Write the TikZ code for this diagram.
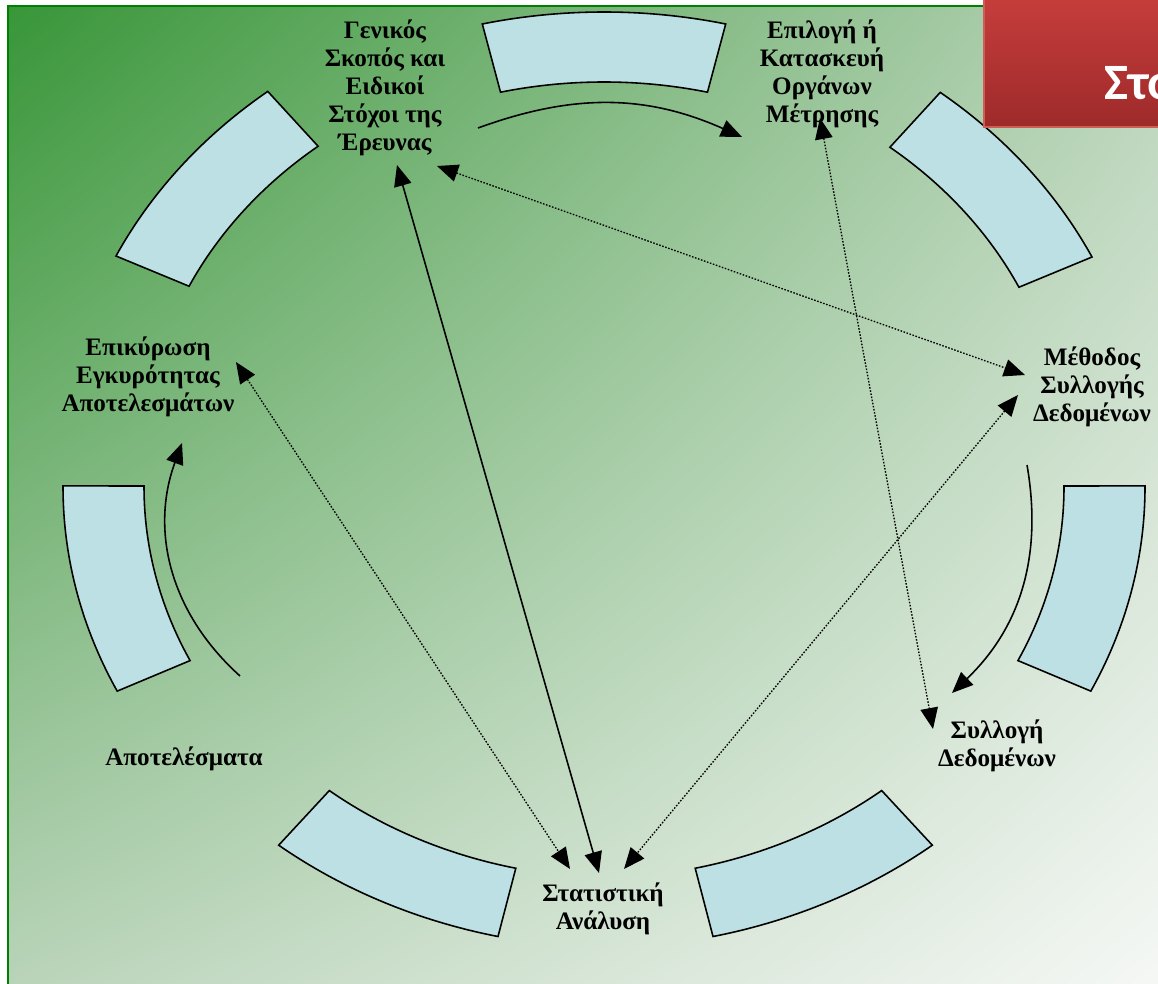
\documentclass[tikz,border=0pt]{standalone}
\usepackage{fontspec}
\setmainfont{Liberation Serif}
\newfontfamily\titlefont{Carlito}
\usetikzlibrary{arrows.meta,shadings}
\definecolor{segblue}{RGB}{188,224,228}
\definecolor{framegreen}{RGB}{0,128,0}
\definecolor{bgdark}{RGB}{56,150,56}
\definecolor{bgmid}{RGB}{186,212,186}
\definecolor{bglight}{RGB}{246,248,246}
\definecolor{boxtop}{RGB}{198,62,60}
\definecolor{boxbot}{RGB}{158,42,42}
\definecolor{boxline}{RGB}{208,92,86}

\begin{document}
\begin{tikzpicture}[x=0.02cm,y=-0.02cm,
  seg/.style={draw=black,line width=0.9pt,fill=segblue},
  lbl/.style={font=\fontsize{14.3}{16}\selectfont\bfseries,align=center,inner sep=0pt},
  tip/.style={line width=0.9pt,-{Triangle[length=12pt,width=10pt]}},
  twotip/.style={line width=0.9pt,{Triangle[length=12pt,width=10pt]}-{Triangle[length=12pt,width=10pt]}},
  dots/.style={dash pattern=on 0.9pt off 0.9pt,line width=0.75pt}]
\useasboundingbox (0,0) rectangle (1158,983);
\clip (0,0) rectangle (1158,983);

\shade[upper left=bgdark,upper right=bgmid,lower left=bgmid,lower right=bglight]
  (8,6) rectangle (1170,990);
\draw[framegreen,line width=1.2pt] (8,990) |- (1170,6);

\foreach \a/\dx/\dy in {-90/0/0,-38.57/0/-21,12.86/0/7,64.29/-10/0,115.71/13/0,167.14/0/7,-141.43/0/-22}{
  \draw[seg,shift={(604+\dx,480+\dy)}] (\a-13:541 and 468)
    arc[start angle=\a-13,end angle=\a+13,x radius=541,y radius=468]
    -- (\a+13:460 and 398)
    arc[start angle=\a+13,end angle=\a-13,x radius=460,y radius=398] -- cycle;
}

\node[lbl] (gen) at (385,88) {Γενικός\\Σκοπός και\\Ειδικοί\\Στόχοι της\\Έρευνας};
\node[lbl] (epil) at (822,74) {Επιλογή ή\\Κατασκευή\\Οργάνων\\Μέτρησης};
\node[lbl] (meth) at (1092,387) {Μέθοδος\\Συλλογής\\Δεδομένων};
\node[lbl] (syll) at (997,746) {Συλλογή\\Δεδομένων};
\node[lbl] (stat) at (603,909) {Στατιστική\\Ανάλυση};
\node[lbl] (apot) at (184,759) {Αποτελέσματα};
\node[lbl] (epik) at (148,377) {Επικύρωση\\Εγκυρότητας\\Αποτελεσμάτων};

\coordinate (genA) at (478,128);
\coordinate (epilA) at (742,137);
\coordinate (methA) at (1027,465);
\coordinate (syllA) at (952,693);
\coordinate (apotA) at (240,676);
\coordinate (epikA) at (182,443);
\draw[tip] (genA) to[bend left=22] (epilA);
\draw[tip] (methA) to[bend left=28] (syllA);
\draw[tip] (apotA) to[bend left=34] (epikA);

\coordinate (genB) at (397,165);
\coordinate (genC) at (437,166);
\coordinate (epilB) at (820,118);
\coordinate (methB) at (1025,375);
\coordinate (methC) at (1018,395);
\coordinate (syllB) at (933,729);
\coordinate (epikB) at (236,362);
\coordinate (statA) at (570,869);
\coordinate (statB) at (599,873);
\coordinate (statC) at (624,869);
\draw[twotip] (genB) -- (statB);
\draw[twotip,dots] (genC) -- (methB);
\draw[twotip,dots] (epilB) -- (syllB);
\draw[twotip,dots] (epikB) -- (statA);
\draw[twotip,dots] (methC) -- (statC);

\shade[top color=boxtop,bottom color=boxbot] (984,-5) rectangle (1170,127);
\draw[boxline,line width=1pt] (1170,127) -| (984,-5);
\node[font=\titlefont\bfseries\fontsize{29}{34}\selectfont,text=white,anchor=base west,inner sep=0pt] (ttl) at (1104,100) {Στο};
\end{tikzpicture}
\end{document}
